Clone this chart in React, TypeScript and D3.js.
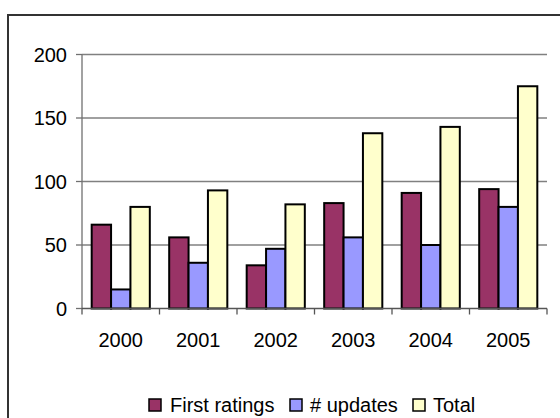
import React from "react";
import * as d3 from "d3";

const years = ["2000", "2001", "2002", "2003", "2004", "2005"];
const firstRatings = [66, 56, 34, 83, 91, 94];
const updates = [15, 36, 47, 56, 50, 80];
const totals = [80, 93, 82, 138, 143, 175];
const seriesNames = ["First ratings", "# updates", "Total"];
const seriesColors = ["#993366", "#9999FF", "#FFFFCC"];
const yTicks = [0, 50, 100, 150, 200];

const W = 560;
const H = 418;
const plot = { left: 82, right: 547, top: 54.5, bottom: 308.5 };
const FONT = "'Liberation Sans', Arial, sans-serif";

export default function App() {
  const x0 = d3
    .scaleBand<string>()
    .domain(years)
    .range([plot.left, plot.right])
    .paddingInner(0)
    .paddingOuter(0);
  const x1 = d3
    .scaleBand<number>()
    .domain([0, 1, 2])
    .range([0, x0.bandwidth()])
    .paddingInner(0)
    .paddingOuter(0.5);
  const y = d3.scaleLinear().domain([0, 200]).range([plot.bottom, plot.top]);

  const series = [firstRatings, updates, totals];
  const tickXs = years.map((yr) => x0(yr)!).concat([plot.right]);

  // legend layout
  const legendItems = [
    { sq: 149, tx: 170 },
    { sq: 290, tx: 310 },
    { sq: 413, tx: 433 },
  ];

  return (
    <svg
      width={W}
      height={H}
      style={{ position: "absolute", left: 0, top: 0, background: "#fff" }}
      fontFamily={FONT}
    >
      {/* chart frame */}
      <rect x={8} y={15} width={W} height={H} fill="#fff" stroke="#333" strokeWidth={2} />

      {/* gridlines */}
      {yTicks.slice(1).map((t) => (
        <line key={t} x1={plot.left} x2={plot.right} y1={y(t)} y2={y(t)} stroke="#808080" strokeWidth={1.3} />
      ))}

      {/* y axis */}
      <line x1={plot.left} x2={plot.left} y1={plot.top} y2={plot.bottom} stroke="#707070" strokeWidth={1.3} />
      {yTicks.map((t) => (
        <g key={t}>
          <line x1={plot.left - 6} x2={plot.left} y1={y(t)} y2={y(t)} stroke="#707070" strokeWidth={1.3} />
          <text x={67} y={y(t)} dy="0.36em" textAnchor="end" fontSize={20} fill="#000">
            {t}
          </text>
        </g>
      ))}

      {/* bars */}
      {years.map((yr, i) => (
        <g key={yr} transform={`translate(${x0(yr)},0)`}>
          {series.map((s, j) => (
            <rect
              key={j}
              x={x1(j)}
              y={y(s[i])}
              width={x1.bandwidth()}
              height={y(0) - y(s[i])}
              fill={seriesColors[j]}
              stroke="#000"
              strokeWidth={2}
            />
          ))}
        </g>
      ))}

      {/* x axis */}
      <line x1={plot.left} x2={plot.right} y1={plot.bottom} y2={plot.bottom} stroke="#555" strokeWidth={1.3} />
      {tickXs.map((tx, i) => (
        <line key={i} x1={tx} x2={tx} y1={plot.bottom} y2={plot.bottom + 6} stroke="#555" strokeWidth={1.3} />
      ))}
      {years.map((yr) => (
        <text
          key={yr}
          x={x0(yr)! + x0.bandwidth() / 2}
          y={347}
          textAnchor="middle"
          fontSize={20}
          fill="#000"
        >
          {yr}
        </text>
      ))}

      {/* legend */}
      {seriesNames.map((name, j) => (
        <g key={name}>
          <rect
            x={legendItems[j].sq}
            y={399}
            width={12}
            height={12}
            fill={seriesColors[j]}
            stroke="#000"
            strokeWidth={1.5}
          />
          <text x={legendItems[j].tx} y={411.5} fontSize={20} fill="#000">
            {name}
          </text>
        </g>
      ))}
    </svg>
  );
}
